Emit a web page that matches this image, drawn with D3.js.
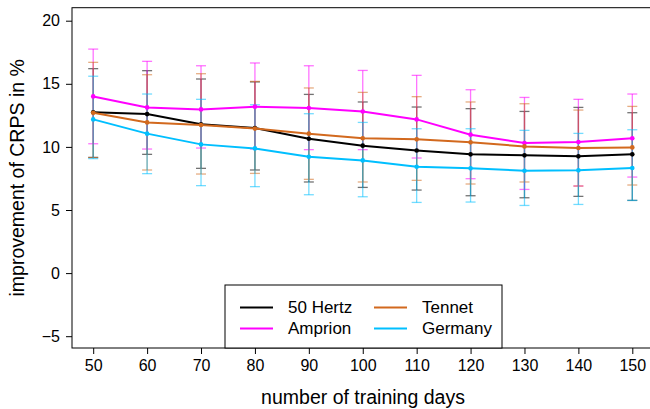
<!DOCTYPE html>
<html>
<head>
<meta charset="utf-8">
<script src="https://cdn.jsdelivr.net/npm/d3@7"></script>
<style>
  html, body { margin: 0; padding: 0; background: #fff; }
  svg { display: block; font-family: "Liberation Sans", Arial, sans-serif; }
</style>
</head>
<body>
<div id="chart"></div>
<script>
// ─── Data ──────────────────────────────────────────────────────
const days = [50, 60, 70, 80, 90, 100, 110, 120, 130, 140, 150];
const yTicks = [-5, 0, 5, 10, 15, 20];

const hertzMean = [12.75, 12.6, 11.8, 11.5, 10.65, 10.1, 9.72, 9.41, 9.33, 9.25, 9.41];
const hertzLo   = [9.17, 9.41, 8.3, 8.17, 7.22, 6.79, 6.58, 6.13, 5.97, 6.08, 5.76];
const hertzHi   = [16.2, 16.04, 15.38, 15.15, 14.16, 13.56, 13.16, 13.03, 12.81, 13.13, 12.71];

const amprionMean = [14.0, 13.13, 12.97, 13.19, 13.08, 12.81, 12.18, 10.97, 10.31, 10.39, 10.68];
const amprionLo   = [10.25, 9.83, 9.91, 9.83, 9.78, 9.78, 9.12, 7.48, 6.63, 6.9, 7.61];
const amprionHi   = [17.75, 16.78, 16.43, 16.65, 16.43, 16.06, 15.67, 14.53, 13.92, 13.77, 14.19];

const tennetMean = [12.7, 11.94, 11.73, 11.45, 11.05, 10.68, 10.6, 10.36, 10.04, 9.91, 9.96];
const tennetLo   = [9.15, 8.17, 7.85, 7.9, 7.43, 7.22, 7.35, 7.06, 7.22, 6.9, 6.98];
const tennetHi   = [16.7, 15.72, 15.8, 15.19, 14.67, 14.32, 13.98, 13.56, 13.42, 12.92, 13.21];

const germanyMean = [12.18, 11.05, 10.2, 9.88, 9.22, 8.93, 8.43, 8.3, 8.11, 8.14, 8.33];
const germanyLo   = [9.07, 7.88, 6.93, 6.85, 6.21, 6.05, 5.6, 5.63, 5.36, 5.44, 5.76];
const germanyHi   = [15.6, 14.19, 13.77, 13.34, 12.63, 11.94, 11.44, 11.44, 11.31, 11.07, 11.36];

const series = [
  { name: "50 Hertz", color: "#000000", mean: hertzMean,   lo: hertzLo,   hi: hertzHi },
  { name: "Amprion",  color: "#ff00ff", mean: amprionMean, lo: amprionLo, hi: amprionHi },
  { name: "Tennet",   color: "#d2691e", mean: tennetMean,  lo: tennetLo,  hi: tennetHi },
  { name: "Germany",  color: "#00bfff", mean: germanyMean, lo: germanyLo, hi: germanyHi }
];

// ─── Layout ────────────────────────────────────────────────────
const W = 650, H = 409;
const box = { left: 72, top: 7.7, right: 652, bottom: 348 };
const font = "Liberation Sans, Arial, sans-serif";

const svg = d3.select("#chart").append("svg")
  .attr("width", W).attr("height", H);

const x = d3.scaleLinear().domain([50, 150]).range([93.2, 632.3]);
const y = d3.scaleLinear().domain([-5, 20]).range([336.2, 20.7]);

// ─── Error bars ────────────────────────────────────────────────
const cap = 5;
series.forEach(s => {
  const eb = svg.append("g")
    .attr("stroke", s.color)
    .attr("stroke-opacity", 0.55)
    .attr("stroke-width", 1.3);
  days.forEach((d, i) => {
    const cx = x(d);
    eb.append("line").attr("x1", cx).attr("x2", cx).attr("y1", y(s.lo[i])).attr("y2", y(s.hi[i]));
    eb.append("line").attr("x1", cx - cap).attr("x2", cx + cap).attr("y1", y(s.lo[i])).attr("y2", y(s.lo[i]));
    eb.append("line").attr("x1", cx - cap).attr("x2", cx + cap).attr("y1", y(s.hi[i])).attr("y2", y(s.hi[i]));
  });
});

// ─── Lines & points ────────────────────────────────────────────
const line = d3.line().x(d => x(d[0])).y(d => y(d[1]));
series.forEach(s => {
  const pts = days.map((d, i) => [d, s.mean[i]]);
  svg.append("path")
    .datum(pts)
    .attr("d", line)
    .attr("fill", "none")
    .attr("stroke", s.color)
    .attr("stroke-width", 2);
  svg.append("g").selectAll("circle")
    .data(pts)
    .join("circle")
    .attr("cx", d => x(d[0]))
    .attr("cy", d => y(d[1]))
    .attr("r", 2.3)
    .attr("fill", s.color);
});

// ─── Frame & axes ─────────────────────────────────────────────
svg.append("rect")
  .attr("x", box.left).attr("y", box.top)
  .attr("width", box.right - box.left).attr("height", box.bottom - box.top)
  .attr("fill", "none").attr("stroke", "#000").attr("stroke-width", 1);

const xAxis = svg.append("g")
  .attr("transform", `translate(0,${box.bottom})`)
  .call(d3.axisBottom(x).tickValues(days).tickSize(6).tickPadding(6).tickSizeOuter(0));
xAxis.select(".domain").remove();
xAxis.selectAll("text").attr("font-size", 16).attr("fill", "#000").attr("font-family", font);

const yAxis = svg.append("g")
  .attr("transform", `translate(${box.left},0)`)
  .call(d3.axisLeft(y).tickValues(yTicks).tickSize(6).tickPadding(6)
    .tickFormat(d => d < 0 ? "\u2212" + Math.abs(d) : d));
yAxis.select(".domain").remove();
yAxis.selectAll("text").attr("font-size", 16).attr("fill", "#000").attr("font-family", font);

svg.append("text")
  .attr("x", 363).attr("y", 404)
  .attr("text-anchor", "middle")
  .attr("font-size", 19.5)
  .text("number of training days");

svg.append("text")
  .attr("transform", `translate(24,${(box.top + box.bottom) / 2}) rotate(-90)`)
  .attr("text-anchor", "middle")
  .attr("font-size", 19.5)
  .text("improvement of CRPS in %");

// ─── Legend ────────────────────────────────────────────────────
const legend = svg.append("g");
legend.append("rect")
  .attr("x", 225).attr("y", 285)
  .attr("width", 277).attr("height", 63)
  .attr("fill", "#fff").attr("stroke", "#000").attr("stroke-width", 1);

const legendPos = [
  { s: series[0], lx: 240, ty: 307.5 },
  { s: series[2], lx: 374, ty: 307.5 },
  { s: series[1], lx: 240, ty: 328.5 },
  { s: series[3], lx: 374, ty: 328.5 }
];
legendPos.forEach(p => {
  legend.append("line")
    .attr("x1", p.lx).attr("x2", p.lx + 33)
    .attr("y1", p.ty).attr("y2", p.ty)
    .attr("stroke", p.s.color).attr("stroke-width", 2);
  legend.append("text")
    .attr("x", p.lx + 48).attr("y", p.ty)
    .attr("dy", "0.35em")
    .attr("font-size", 17)
    .text(p.s.name);
});
</script>
</body>
</html>
